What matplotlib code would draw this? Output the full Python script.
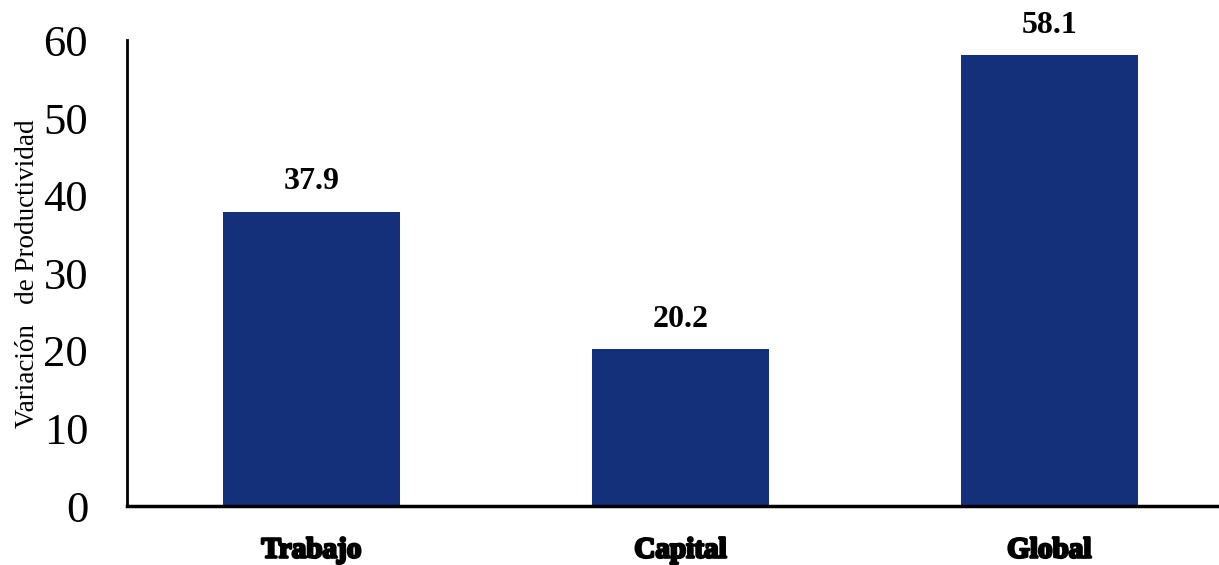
import matplotlib
matplotlib.use('Agg')
import matplotlib.pyplot as plt
import matplotlib.patheffects as pe

# data
categorias = ['Trabajo', 'Capital', 'Global']
valores = [37.9, 20.2, 58.1]
yticks = [0, 10, 20, 30, 40, 50, 60]

plt.rcParams['font.family'] = ['Liberation Serif', 'DejaVu Serif']

fig = plt.figure(figsize=(12.19, 5.65), dpi=100)
ax = fig.add_axes([0.1042, 0.1044, 0.8958, 0.8241])

x = range(len(categorias))
bars = ax.bar(x, valores, width=0.48, color='#15307A')

for b, v in zip(bars, valores):
    ax.text(b.get_x() + b.get_width()/2, v + 2.0, f'{v:.1f}', ha='center', va='bottom',
            fontsize=23, fontweight='bold')

ax.set_xlim(-0.5, 2.46)
ax.set_ylim(0, 60)
ax.set_yticks(yticks)
ax.set_yticklabels([str(t) for t in yticks], fontsize=32)
ax.set_xticks(list(x))
ax.set_xticklabels(categorias, fontsize=21, fontweight='bold')
for lab in ax.get_xticklabels():
    lab.set_path_effects([pe.withStroke(linewidth=1.8, foreground='black')])
ax.tick_params(axis='both', length=0)
ax.tick_params(axis='x', pad=22)
ax.tick_params(axis='y', pad=28)

ax.set_ylabel('Variación   de Productividad', fontsize=19.5)
ax.yaxis.set_label_coords(-0.08, 0.5)

for s in ['top', 'right']:
    ax.spines[s].set_visible(False)
ax.spines['left'].set_linewidth(2)
ax.spines['bottom'].set_linewidth(2.5)

fig.savefig('out.png', dpi=100)
